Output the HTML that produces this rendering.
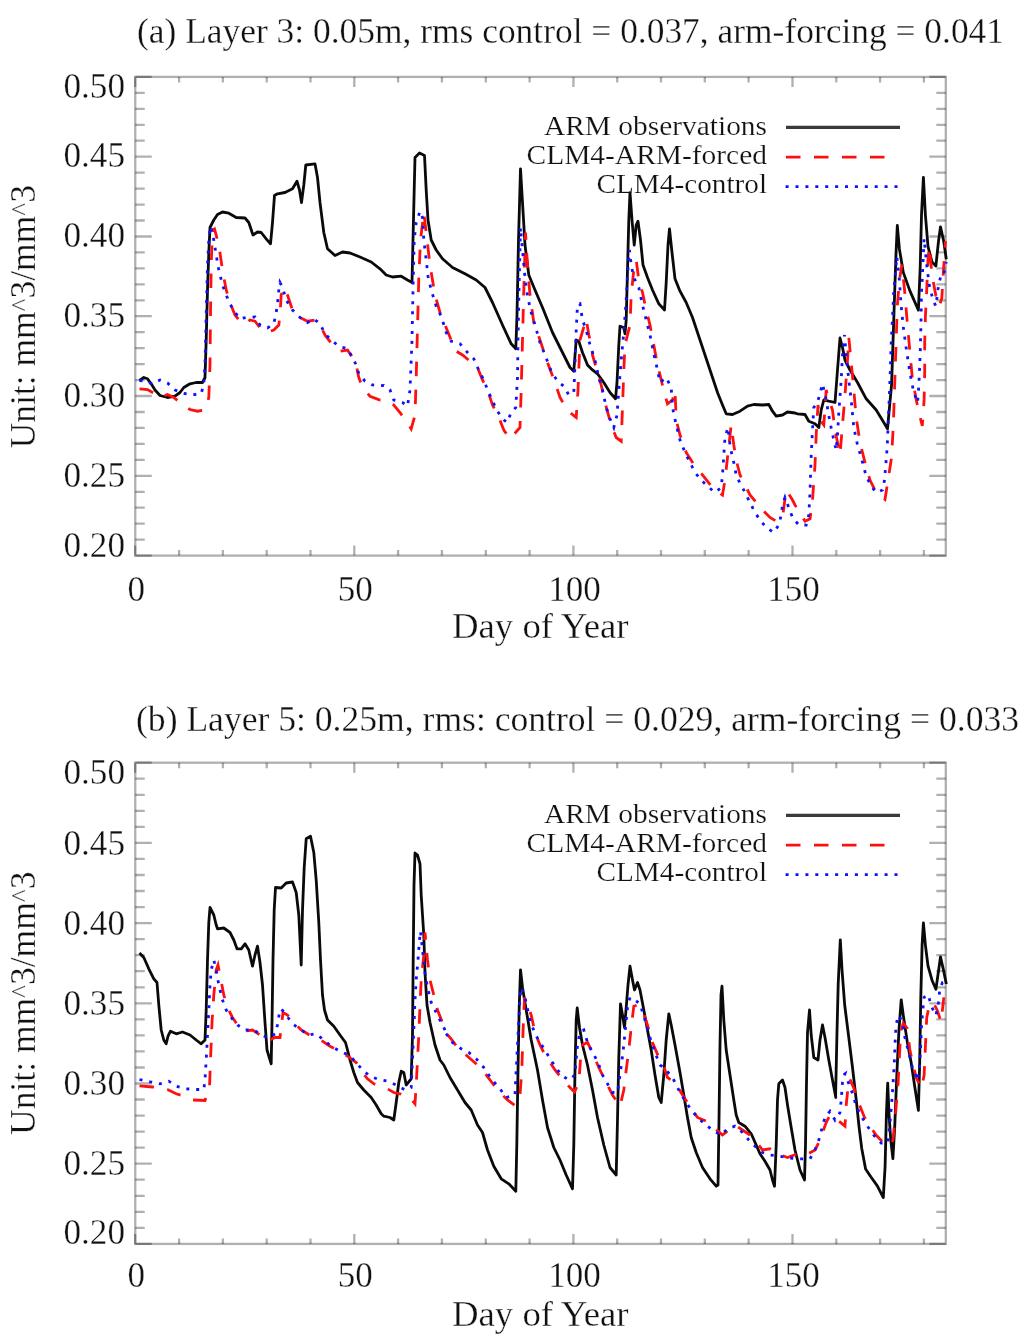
<!DOCTYPE html>
<html><head><meta charset="utf-8"><title>Soil moisture</title>
<style>
html,body{margin:0;padding:0;background:#fff}
svg{display:block;filter:blur(.55px)}
.t{font-family:"Liberation Serif",serif;font-size:35px;fill:#111;stroke:#fff;stroke-width:.3px}
.l{font-family:"Liberation Serif",serif;font-size:28px;fill:#111;stroke:#fff;stroke-width:.2px}
.bk{fill:none;stroke:#0a0a0a;stroke-width:2.8;stroke-linejoin:round}
.rd{fill:none;stroke:#ff1010;stroke-width:2.8;stroke-dasharray:14.5 13.5}
.bu{fill:none;stroke:#1010ff;stroke-width:2.8;stroke-dasharray:3 6.9}
.lg.bk{stroke-width:3.2;stroke:#3a3a3a}
</style></head><body>
<svg width="1024" height="1344" viewBox="0 0 1024 1344">
<rect width="1024" height="1344" fill="#fff"/>
<rect x="135.25" y="76.9" width="810.55" height="478.70000000000005" fill="none" stroke="#000" stroke-opacity=".31" stroke-width="2.3"/>
<path d="M135.2 555.6v-10M135.2 76.9v10M179.1 555.6v-5.5M179.1 76.9v5.5M222.9 555.6v-5.5M222.9 76.9v5.5M266.7 555.6v-5.5M266.7 76.9v5.5M310.5 555.6v-5.5M310.5 76.9v5.5M354.3 555.6v-10M354.3 76.9v10M398.1 555.6v-5.5M398.1 76.9v5.5M441.9 555.6v-5.5M441.9 76.9v5.5M485.8 555.6v-5.5M485.8 76.9v5.5M529.6 555.6v-5.5M529.6 76.9v5.5M573.4 555.6v-10M573.4 76.9v10M617.2 555.6v-5.5M617.2 76.9v5.5M661.0 555.6v-5.5M661.0 76.9v5.5M704.8 555.6v-5.5M704.8 76.9v5.5M748.6 555.6v-5.5M748.6 76.9v5.5M792.5 555.6v-10M792.5 76.9v10M836.3 555.6v-5.5M836.3 76.9v5.5M880.1 555.6v-5.5M880.1 76.9v5.5M923.9 555.6v-5.5M923.9 76.9v5.5M135.25 555.6h16.5M945.8 555.6h-16.5M135.25 539.6h9.5M945.8 539.6h-9.5M135.25 523.7h9.5M945.8 523.7h-9.5M135.25 507.7h9.5M945.8 507.7h-9.5M135.25 491.8h9.5M945.8 491.8h-9.5M135.25 475.8h16.5M945.8 475.8h-16.5M135.25 459.9h9.5M945.8 459.9h-9.5M135.25 443.9h9.5M945.8 443.9h-9.5M135.25 427.9h9.5M945.8 427.9h-9.5M135.25 412.0h9.5M945.8 412.0h-9.5M135.25 396.0h16.5M945.8 396.0h-16.5M135.25 380.1h9.5M945.8 380.1h-9.5M135.25 364.1h9.5M945.8 364.1h-9.5M135.25 348.2h9.5M945.8 348.2h-9.5M135.25 332.2h9.5M945.8 332.2h-9.5M135.25 316.2h16.5M945.8 316.2h-16.5M135.25 300.3h9.5M945.8 300.3h-9.5M135.25 284.3h9.5M945.8 284.3h-9.5M135.25 268.4h9.5M945.8 268.4h-9.5M135.25 252.4h9.5M945.8 252.4h-9.5M135.25 236.5h16.5M945.8 236.5h-16.5M135.25 220.5h9.5M945.8 220.5h-9.5M135.25 204.6h9.5M945.8 204.6h-9.5M135.25 188.6h9.5M945.8 188.6h-9.5M135.25 172.6h9.5M945.8 172.6h-9.5M135.25 156.7h16.5M945.8 156.7h-16.5M135.25 140.7h9.5M945.8 140.7h-9.5M135.25 124.8h9.5M945.8 124.8h-9.5M135.25 108.8h9.5M945.8 108.8h-9.5M135.25 92.9h9.5M945.8 92.9h-9.5M135.25 76.9h16.5M945.8 76.9h-16.5" stroke="#000" stroke-opacity=".31" stroke-width="2.3" fill="none"/>
<path d="M139.5 380.5 L143.8 377.5 L147.5 378.8 L151.2 383.8 L155.0 390.0 L160.0 395.5 L167.5 397.5 L175.0 396.2 L180.0 392.5 L183.8 387.5 L190.0 383.8 L196.2 382.5 L202.5 382.5 L205.0 377.5 L206.2 340.0 L207.5 290.0 L208.8 252.5 L210.0 227.5 L213.8 220.0 L217.5 214.5 L222.5 212.0 L228.8 213.2 L236.2 217.5 L245.0 218.0 L248.8 222.5 L253.0 235.0 L257.5 232.0 L261.2 232.5 L266.2 238.8 L270.5 243.8 L272.5 222.5 L274.5 195.5 L277.5 193.8 L285.0 192.5 L292.5 188.8 L297.0 181.2 L299.5 190.0 L301.5 202.5 L303.8 185.0 L305.8 165.0 L315.0 163.8 L317.5 177.5 L320.0 202.5 L323.8 232.5 L327.5 248.8 L335.0 255.5 L342.5 252.0 L350.0 253.0 L360.0 257.0 L371.2 262.0 L380.0 268.8 L386.2 275.0 L392.5 277.0 L401.2 276.2 L407.5 280.0 L412.0 282.5 L413.0 240.0 L414.2 190.0 L415.0 157.5 L419.5 153.0 L424.5 155.5 L426.2 190.0 L428.0 220.0 L431.2 240.0 L436.2 250.0 L442.5 258.8 L452.5 267.5 L465.0 273.8 L476.2 280.0 L485.0 287.5 L492.5 302.5 L502.5 325.0 L511.2 343.8 L515.8 348.8 L517.0 315.0 L518.5 240.0 L520.5 168.8 L522.5 202.5 L525.0 245.0 L528.8 275.0 L535.0 290.0 L542.5 307.5 L552.5 332.5 L562.5 352.5 L570.0 367.5 L573.8 371.2 L576.2 340.0 L578.8 341.2 L582.5 352.5 L587.5 365.0 L591.2 368.8 L597.5 373.8 L603.8 382.5 L610.0 392.5 L615.5 398.8 L617.0 382.5 L618.8 345.0 L620.0 326.2 L623.8 327.5 L625.0 333.8 L626.2 320.0 L627.5 270.0 L628.8 220.0 L630.0 192.5 L632.0 220.0 L634.2 245.0 L636.2 225.0 L638.0 221.2 L640.5 240.0 L643.0 265.0 L647.5 277.5 L652.5 290.0 L658.8 303.8 L664.5 310.0 L666.2 282.5 L668.0 245.0 L669.5 228.8 L672.0 252.5 L675.0 278.8 L680.0 291.2 L686.2 302.5 L692.5 317.5 L700.0 340.0 L710.0 370.0 L717.5 392.5 L722.5 405.0 L726.2 413.8 L732.5 414.5 L740.0 411.2 L747.5 406.2 L753.8 404.5 L762.5 405.0 L768.8 404.5 L772.5 411.2 L776.2 416.2 L782.5 415.0 L787.5 412.0 L795.0 413.0 L797.5 413.8 L805.0 414.5 L808.8 421.2 L815.0 423.8 L818.8 427.5 L821.2 410.0 L823.8 400.0 L828.8 401.2 L835.0 402.5 L837.5 370.0 L840.0 338.0 L842.5 347.5 L845.0 360.0 L850.0 370.0 L857.5 382.5 L866.2 398.8 L876.2 410.0 L883.8 422.5 L887.5 428.8 L891.6 384.3 L894.2 306.2 L896.0 254.1 L897.3 225.5 L899.4 248.9 L903.3 272.4 L909.8 290.6 L918.4 310.1 L920.2 267.2 L921.5 215.1 L923.4 177.3 L925.4 215.1 L928.0 246.3 L932.0 262.0 L935.9 265.9 L938.5 241.1 L940.5 226.8 L943.7 241.1 L946.3 259.3" class="bk"/>
<path d="M139.5 388.8 L147.5 389.5 L155.0 393.8 L160.0 397.5 L167.5 394.5 L173.8 397.5 L180.0 402.5 L190.0 409.5 L197.5 411.2 L205.0 410.0 L208.8 397.5 L210.0 365.0 L210.5 315.0 L211.2 265.0 L212.5 230.0 L214.5 228.8 L218.8 245.0 L222.5 270.0 L226.2 290.0 L230.0 302.5 L235.0 315.0 L240.0 321.2 L245.0 324.5 L250.0 320.0 L255.0 321.2 L260.0 327.5 L266.2 332.5 L273.8 330.0 L278.8 325.0 L280.0 315.0 L281.2 295.0 L283.8 287.5 L287.5 295.0 L292.5 310.0 L300.0 317.5 L307.5 321.2 L315.0 320.0 L320.0 325.0 L325.0 335.0 L332.5 345.0 L340.0 351.2 L347.5 350.0 L352.5 357.5 L356.2 365.0 L358.8 377.5 L362.5 387.5 L370.0 396.2 L380.0 400.0 L387.5 400.5 L393.8 405.0 L400.0 412.5 L406.2 421.2 L411.2 428.8 L415.0 415.0 L416.2 377.5 L417.5 327.5 L418.8 277.5 L420.5 240.0 L423.8 212.5 L426.2 232.5 L430.0 265.0 L435.0 295.0 L440.0 312.5 L445.0 325.0 L451.2 340.0 L456.2 351.2 L462.5 355.0 L470.0 361.2 L477.5 367.5 L482.5 380.0 L487.5 390.0 L492.5 405.0 L498.8 417.5 L503.8 430.0 L510.0 438.8 L520.0 427.5 L521.2 390.0 L522.5 340.0 L523.8 290.0 L525.5 232.5 L527.5 265.0 L530.0 295.0 L533.8 322.5 L540.0 340.0 L547.5 362.5 L555.0 382.5 L560.0 397.5 L565.0 406.2 L570.0 412.5 L576.2 417.5 L578.0 390.0 L580.0 340.0 L586.2 318.8 L588.8 335.0 L592.5 347.5 L592.5 355.0 L597.5 372.5 L601.2 385.0 L605.0 402.5 L611.2 425.0 L616.2 437.5 L621.2 441.2 L622.5 407.5 L623.8 370.0 L625.0 345.0 L630.0 325.0 L631.2 295.0 L633.8 270.0 L636.2 260.0 L638.8 280.0 L642.5 292.5 L646.2 310.0 L650.0 325.0 L653.8 345.0 L657.5 365.0 L661.2 380.0 L665.0 395.0 L667.5 403.8 L672.5 400.0 L675.0 390.0 L676.2 420.0 L680.0 435.0 L686.2 452.5 L695.0 466.2 L702.5 475.0 L712.5 487.5 L722.5 495.0 L725.0 480.0 L727.5 457.5 L731.2 425.0 L733.8 445.0 L736.2 460.0 L740.0 475.0 L745.0 485.0 L750.0 495.0 L757.5 503.8 L762.5 510.0 L770.0 517.5 L776.2 521.2 L782.5 517.5 L786.2 490.0 L792.5 500.0 L795.0 505.0 L805.0 521.2 L810.0 518.8 L812.5 500.0 L815.0 465.0 L816.2 435.0 L818.0 405.0 L820.0 420.0 L823.8 425.0 L826.2 390.0 L830.0 402.5 L832.5 410.0 L835.0 430.0 L840.0 455.0 L842.5 425.0 L845.0 395.0 L847.5 360.0 L848.8 337.5 L851.2 362.5 L853.8 390.0 L856.2 417.5 L860.0 442.5 L865.0 462.5 L870.0 480.0 L876.2 492.5 L885.0 499.5 L891.6 457.2 L893.4 423.4 L894.7 384.3 L896.0 345.3 L897.3 306.2 L899.4 280.2 L902.0 264.6 L904.6 290.6 L907.2 321.8 L909.8 350.5 L912.4 379.1 L916.3 399.9 L918.4 410.3 L922.3 426.0 L924.1 399.9 L924.7 371.3 L924.7 342.7 L925.4 316.6 L926.7 290.6 L928.0 259.3 L929.3 246.3 L932.0 275.0 L935.9 295.8 L939.2 306.2 L941.8 298.4 L943.7 267.2 L945.5 241.1" class="rd"/>
<path d="M139.5 380.5 L145.0 381.2 L152.5 383.8 L160.0 380.0 L167.5 383.0 L175.0 390.0 L182.5 393.0 L191.2 395.0 L201.2 393.8 L203.8 383.8 L205.0 365.0 L206.2 315.0 L207.5 265.0 L208.8 240.0 L210.5 226.2 L213.8 240.0 L216.2 255.0 L218.8 270.0 L222.5 285.0 L226.2 295.0 L230.0 303.8 L235.0 312.5 L240.0 318.8 L246.2 317.5 L255.0 317.0 L260.0 325.0 L267.5 328.0 L273.8 323.8 L276.2 312.5 L277.5 303.8 L278.8 290.0 L280.0 282.5 L282.5 287.5 L286.2 300.0 L292.5 310.0 L300.0 317.5 L307.5 322.5 L313.8 318.8 L320.0 323.8 L325.0 333.8 L331.2 340.0 L338.8 346.2 L347.5 348.8 L352.5 357.5 L356.2 365.0 L358.8 373.8 L365.0 381.2 L372.5 385.0 L380.0 385.8 L383.8 385.5 L390.0 390.0 L393.8 400.0 L402.5 402.5 L407.5 406.2 L410.0 390.0 L412.0 340.0 L413.0 290.0 L414.2 240.0 L416.2 222.5 L420.0 211.2 L422.5 217.5 L423.8 240.0 L426.2 260.0 L428.0 276.2 L431.2 290.0 L436.2 306.2 L441.2 316.2 L446.2 332.5 L451.2 341.2 L460.0 343.8 L467.5 352.5 L473.8 358.8 L477.5 367.5 L482.5 377.5 L488.8 392.5 L492.5 401.2 L497.5 411.2 L502.5 418.8 L507.0 422.5 L511.2 412.5 L515.8 407.5 L517.5 377.5 L518.0 340.0 L519.0 290.0 L520.5 227.5 L522.5 250.0 L525.0 277.5 L527.5 296.2 L531.2 312.5 L535.0 325.0 L540.0 342.5 L545.0 355.0 L551.2 371.2 L557.5 381.2 L563.8 386.2 L568.8 395.0 L573.8 392.5 L575.0 365.0 L576.2 330.0 L577.5 305.0 L580.0 303.8 L582.5 320.0 L586.2 330.0 L590.0 345.0 L595.0 360.0 L598.8 377.5 L602.5 390.0 L606.2 407.5 L610.0 418.8 L613.8 427.5 L617.0 415.0 L618.8 390.0 L621.2 360.0 L623.8 332.5 L626.2 300.0 L627.5 275.0 L629.5 250.0 L631.2 265.0 L633.8 277.5 L638.8 287.5 L642.5 305.0 L646.2 320.0 L650.0 335.0 L653.8 353.8 L657.5 370.0 L660.0 382.5 L666.2 377.5 L671.2 387.5 L672.5 407.5 L676.2 425.0 L680.0 440.0 L685.0 452.5 L690.0 462.5 L695.0 472.5 L701.2 480.0 L707.5 486.2 L715.0 492.5 L721.2 487.5 L722.5 475.0 L723.8 455.0 L725.0 437.5 L728.0 427.5 L730.0 445.0 L732.5 457.5 L735.0 467.5 L736.2 476.2 L741.2 485.0 L745.0 492.5 L750.0 502.5 L755.0 512.5 L760.0 520.0 L766.2 527.5 L773.8 532.5 L778.8 525.0 L781.2 515.0 L782.5 505.0 L785.0 497.5 L788.8 507.5 L792.5 517.5 L798.8 525.0 L806.2 525.0 L808.8 515.0 L810.0 492.5 L811.2 455.0 L812.5 430.0 L813.8 407.5 L817.5 402.5 L822.5 383.8 L826.2 400.0 L830.0 422.5 L833.8 440.0 L836.2 450.0 L837.5 435.0 L838.8 412.5 L841.2 380.0 L842.5 355.0 L844.5 335.0 L846.2 355.0 L848.8 380.0 L851.2 400.0 L853.8 427.5 L857.5 445.0 L861.2 457.5 L866.2 476.2 L871.2 486.2 L876.2 492.5 L882.5 490.0 L883.8 485.9 L885.6 467.6 L887.2 446.8 L888.2 423.4 L889.3 397.3 L890.3 371.3 L891.1 345.3 L892.4 319.2 L893.7 293.2 L895.5 272.4 L896.8 256.7 L899.4 280.2 L901.2 306.2 L903.3 327.0 L905.4 342.7 L908.5 363.5 L911.1 379.1 L913.7 392.1 L917.6 402.5 L918.9 384.3 L920.2 353.1 L921.0 321.8 L921.5 293.2 L922.8 267.2 L924.1 238.5 L926.7 264.6 L929.3 285.4 L933.3 301.0 L935.9 306.2 L938.5 285.4 L941.1 275.0 L943.7 275.0 L946.3 262.0" class="bu"/>
<text x="137" y="43" class="t" textLength="867" lengthAdjust="spacingAndGlyphs">(a) Layer 3: 0.05m, rms control = 0.037, arm-forcing = 0.041</text>
<text x="63.5" y="97.5" class="t" textLength="61.5" lengthAdjust="spacingAndGlyphs">0.50</text>
<text x="63.5" y="167" class="t" textLength="61.5" lengthAdjust="spacingAndGlyphs">0.45</text>
<text x="63.5" y="247.3" class="t" textLength="61.5" lengthAdjust="spacingAndGlyphs">0.40</text>
<text x="63.5" y="327" class="t" textLength="61.5" lengthAdjust="spacingAndGlyphs">0.35</text>
<text x="63.5" y="407.3" class="t" textLength="61.5" lengthAdjust="spacingAndGlyphs">0.30</text>
<text x="63.5" y="487.3" class="t" textLength="61.5" lengthAdjust="spacingAndGlyphs">0.25</text>
<text x="63.5" y="556.5" class="t" textLength="61.5" lengthAdjust="spacingAndGlyphs">0.20</text>
<text x="136.2" y="601" class="t" text-anchor="middle">0</text>
<text x="355.3" y="601" class="t" text-anchor="middle">50</text>
<text x="574.4" y="601" class="t" text-anchor="middle">100</text>
<text x="793.5" y="601" class="t" text-anchor="middle">150</text>
<text x="452" y="638" class="t" textLength="176.5" lengthAdjust="spacingAndGlyphs">Day of Year</text>
<text transform="translate(35 448.5) rotate(-90)" class="t" textLength="263.5" lengthAdjust="spacingAndGlyphs">Unit: mm<tspan font-size="27" dy="-5.5">^</tspan><tspan dy="5.5">3/mm</tspan><tspan font-size="27" dy="-5.5">^</tspan><tspan dy="5.5">3</tspan></text>
<text x="544" y="134.5" class="l" textLength="223" lengthAdjust="spacingAndGlyphs">ARM observations</text>
<path d="M786 127.3H900" class="bk lg"/>
<text x="526.5" y="163.9" class="l" textLength="240.5" lengthAdjust="spacingAndGlyphs">CLM4-ARM-forced</text>
<path d="M786 157.1H886" class="rd lg"/>
<text x="596.5" y="193.3" class="l" textLength="170.5" lengthAdjust="spacingAndGlyphs">CLM4-control</text>
<path d="M785.6 186.7H900" class="bu lg"/>
<rect x="135.25" y="762.7" width="810.55" height="481.20000000000005" fill="none" stroke="#000" stroke-opacity=".31" stroke-width="2.3"/>
<path d="M135.2 1243.9v-10M135.2 762.7v10M179.1 1243.9v-5.5M179.1 762.7v5.5M222.9 1243.9v-5.5M222.9 762.7v5.5M266.7 1243.9v-5.5M266.7 762.7v5.5M310.5 1243.9v-5.5M310.5 762.7v5.5M354.3 1243.9v-10M354.3 762.7v10M398.1 1243.9v-5.5M398.1 762.7v5.5M441.9 1243.9v-5.5M441.9 762.7v5.5M485.8 1243.9v-5.5M485.8 762.7v5.5M529.6 1243.9v-5.5M529.6 762.7v5.5M573.4 1243.9v-10M573.4 762.7v10M617.2 1243.9v-5.5M617.2 762.7v5.5M661.0 1243.9v-5.5M661.0 762.7v5.5M704.8 1243.9v-5.5M704.8 762.7v5.5M748.6 1243.9v-5.5M748.6 762.7v5.5M792.5 1243.9v-10M792.5 762.7v10M836.3 1243.9v-5.5M836.3 762.7v5.5M880.1 1243.9v-5.5M880.1 762.7v5.5M923.9 1243.9v-5.5M923.9 762.7v5.5M135.25 1243.9h16.5M945.8 1243.9h-16.5M135.25 1227.9h9.5M945.8 1227.9h-9.5M135.25 1211.8h9.5M945.8 1211.8h-9.5M135.25 1195.8h9.5M945.8 1195.8h-9.5M135.25 1179.7h9.5M945.8 1179.7h-9.5M135.25 1163.7h16.5M945.8 1163.7h-16.5M135.25 1147.7h9.5M945.8 1147.7h-9.5M135.25 1131.6h9.5M945.8 1131.6h-9.5M135.25 1115.6h9.5M945.8 1115.6h-9.5M135.25 1099.5h9.5M945.8 1099.5h-9.5M135.25 1083.5h16.5M945.8 1083.5h-16.5M135.25 1067.5h9.5M945.8 1067.5h-9.5M135.25 1051.4h9.5M945.8 1051.4h-9.5M135.25 1035.4h9.5M945.8 1035.4h-9.5M135.25 1019.3h9.5M945.8 1019.3h-9.5M135.25 1003.3h16.5M945.8 1003.3h-16.5M135.25 987.3h9.5M945.8 987.3h-9.5M135.25 971.2h9.5M945.8 971.2h-9.5M135.25 955.2h9.5M945.8 955.2h-9.5M135.25 939.1h9.5M945.8 939.1h-9.5M135.25 923.1h16.5M945.8 923.1h-16.5M135.25 907.1h9.5M945.8 907.1h-9.5M135.25 891.0h9.5M945.8 891.0h-9.5M135.25 875.0h9.5M945.8 875.0h-9.5M135.25 858.9h9.5M945.8 858.9h-9.5M135.25 842.9h16.5M945.8 842.9h-16.5M135.25 826.9h9.5M945.8 826.9h-9.5M135.25 810.8h9.5M945.8 810.8h-9.5M135.25 794.8h9.5M945.8 794.8h-9.5M135.25 778.7h9.5M945.8 778.7h-9.5M135.25 762.7h16.5M945.8 762.7h-16.5" stroke="#000" stroke-opacity=".31" stroke-width="2.3" fill="none"/>
<path d="M139.5 953.0 L143.8 957.5 L148.8 968.8 L153.8 978.8 L157.0 982.5 L158.8 1005.0 L161.2 1030.0 L163.8 1040.0 L166.2 1043.8 L168.0 1036.2 L170.5 1031.2 L176.2 1033.8 L182.5 1032.0 L190.0 1035.0 L196.2 1040.0 L201.2 1043.8 L205.0 1040.0 L206.2 1010.0 L207.5 960.0 L208.8 922.5 L210.0 907.5 L213.8 915.0 L216.2 925.0 L217.5 928.8 L223.8 928.0 L230.0 932.5 L233.8 940.0 L237.0 948.8 L241.2 948.8 L245.0 943.8 L248.8 950.0 L252.5 966.2 L255.0 955.0 L257.5 946.2 L260.0 962.5 L262.5 985.0 L265.0 1022.5 L267.0 1050.0 L271.2 1063.8 L272.0 1022.5 L273.0 960.0 L274.2 910.0 L275.5 887.5 L281.2 888.0 L286.2 883.0 L292.5 882.0 L296.2 892.5 L298.8 915.0 L300.0 940.0 L301.2 965.0 L302.5 910.0 L304.2 867.5 L306.2 838.8 L310.5 836.2 L313.8 852.5 L316.2 880.0 L318.8 922.5 L320.5 960.0 L322.5 995.0 L324.5 1010.0 L327.5 1020.0 L333.8 1026.2 L340.0 1035.0 L345.5 1042.5 L347.5 1050.0 L350.0 1060.0 L353.8 1072.5 L357.5 1082.5 L363.8 1090.0 L371.2 1097.5 L376.2 1105.0 L381.2 1113.8 L383.8 1116.2 L390.0 1117.5 L393.8 1120.0 L396.2 1102.5 L398.8 1082.5 L401.2 1071.2 L403.8 1072.5 L406.2 1085.0 L411.2 1078.8 L412.5 1035.0 L413.2 960.0 L414.0 885.0 L415.0 853.0 L417.5 855.0 L420.0 863.8 L421.2 895.0 L423.8 935.0 L425.0 972.5 L427.0 1005.0 L430.0 1022.5 L435.0 1045.0 L440.0 1060.0 L443.8 1065.0 L450.0 1077.5 L457.5 1090.0 L465.0 1102.5 L471.2 1110.0 L477.5 1125.0 L482.5 1132.5 L487.5 1150.0 L493.8 1166.2 L501.2 1178.8 L508.8 1183.8 L515.8 1191.2 L516.8 1145.0 L518.0 1070.0 L519.2 1007.5 L520.5 970.0 L522.5 987.5 L526.2 1010.0 L531.2 1040.0 L537.5 1070.0 L542.5 1100.0 L547.5 1127.5 L553.8 1147.5 L560.0 1160.0 L566.2 1175.0 L572.5 1188.8 L573.8 1145.0 L575.0 1070.0 L576.2 1020.0 L577.2 1008.0 L579.5 1027.5 L582.5 1045.0 L587.5 1065.0 L592.5 1090.0 L597.5 1117.5 L603.8 1145.0 L610.0 1167.5 L616.2 1175.0 L617.5 1120.0 L618.8 1057.5 L620.5 1003.8 L622.5 1015.0 L624.5 1027.5 L626.2 1007.5 L628.0 985.0 L630.0 966.2 L632.5 980.0 L634.5 990.0 L637.5 982.5 L640.0 990.0 L643.8 1010.0 L647.5 1030.0 L651.2 1050.0 L655.0 1075.0 L658.8 1097.5 L661.2 1102.5 L663.8 1075.0 L666.2 1040.0 L668.8 1013.8 L671.2 1025.0 L675.0 1045.0 L680.0 1072.5 L683.8 1095.0 L687.5 1117.5 L691.2 1137.5 L696.2 1152.5 L702.5 1167.5 L710.0 1178.8 L716.2 1186.2 L718.0 1185.0 L719.0 1120.0 L720.0 1045.0 L721.0 995.0 L722.0 986.2 L723.8 1020.0 L726.2 1050.0 L730.0 1075.0 L733.8 1100.0 L736.2 1115.0 L738.8 1122.5 L745.0 1126.2 L751.2 1133.8 L756.2 1145.0 L760.0 1153.8 L765.0 1161.2 L770.0 1170.0 L772.5 1180.0 L774.5 1186.2 L776.2 1145.0 L777.5 1100.0 L778.8 1083.8 L782.5 1080.0 L785.0 1087.5 L787.5 1105.0 L791.2 1127.5 L795.0 1150.0 L800.0 1170.0 L804.5 1180.0 L805.5 1145.0 L806.5 1082.5 L807.5 1032.5 L809.5 1010.0 L811.2 1035.0 L813.8 1057.5 L818.0 1060.0 L820.0 1040.0 L822.5 1025.0 L825.0 1037.5 L828.8 1060.0 L832.5 1080.0 L835.8 1097.5 L835.6 1096.1 L836.9 1036.2 L838.2 984.1 L840.3 939.9 L842.1 971.1 L844.7 1005.0 L848.6 1036.2 L852.5 1067.5 L856.4 1101.3 L859.1 1127.3 L861.7 1148.2 L865.6 1169.0 L870.8 1176.8 L877.3 1185.9 L883.3 1197.6 L885.1 1166.4 L886.4 1114.3 L887.7 1083.1 L889.0 1114.3 L890.8 1140.3 L892.9 1158.6 L894.7 1127.3 L896.8 1075.3 L898.9 1031.0 L901.2 999.8 L903.3 1015.4 L907.2 1041.4 L911.1 1062.2 L915.0 1088.3 L918.4 1110.4 L919.7 1062.2 L920.8 997.2 L922.1 945.1 L923.4 923.0 L925.4 945.1 L928.0 965.9 L932.0 980.2 L935.9 989.3 L938.5 971.1 L940.5 956.8 L943.7 971.1 L946.3 984.1" class="bk"/>
<path d="M139.5 1085.8 L152.5 1087.0 L167.5 1089.5 L176.2 1093.8 L183.8 1096.2 L192.5 1100.0 L205.0 1100.5 L209.5 1087.5 L210.5 1060.0 L212.0 1022.5 L213.8 995.0 L216.2 970.0 L218.0 965.0 L220.5 977.5 L223.8 995.0 L227.5 1007.5 L232.5 1017.5 L237.5 1025.0 L243.8 1031.2 L252.5 1030.0 L260.0 1035.0 L267.5 1041.2 L275.0 1037.5 L280.0 1037.5 L281.2 1027.5 L283.0 1012.5 L287.5 1015.0 L293.8 1022.5 L301.2 1030.0 L307.5 1033.8 L313.8 1037.5 L322.5 1041.2 L330.0 1046.2 L340.0 1051.2 L347.5 1056.2 L356.2 1062.5 L362.5 1072.5 L367.5 1078.8 L373.8 1083.8 L385.0 1087.5 L393.8 1092.5 L400.0 1093.8 L410.0 1097.5 L415.0 1103.8 L416.2 1085.0 L417.5 1060.0 L418.8 1035.0 L420.0 1005.0 L421.2 980.0 L423.8 955.0 L425.0 932.5 L427.5 960.0 L430.0 980.0 L433.8 995.0 L437.5 1010.0 L442.5 1022.5 L447.5 1035.0 L450.0 1037.5 L457.5 1047.5 L467.5 1056.2 L477.5 1065.0 L486.2 1075.0 L493.8 1085.0 L500.0 1092.5 L507.5 1100.0 L515.0 1105.5 L520.0 1095.0 L521.8 1070.0 L523.0 1032.5 L524.5 997.5 L527.5 1005.0 L531.2 1015.0 L535.0 1032.5 L540.0 1045.0 L545.0 1055.0 L550.0 1062.5 L555.0 1070.0 L561.2 1077.5 L567.5 1085.0 L574.5 1092.0 L578.8 1082.5 L580.5 1060.0 L582.5 1045.0 L587.5 1042.5 L592.5 1052.5 L598.8 1067.5 L605.0 1080.0 L612.5 1095.0 L620.0 1106.2 L623.8 1090.0 L626.2 1070.0 L628.8 1050.0 L631.2 1027.5 L633.8 1006.2 L637.5 1005.0 L642.5 1010.0 L647.5 1025.0 L652.5 1042.5 L658.8 1057.5 L662.5 1062.5 L667.5 1077.5 L675.0 1082.5 L682.5 1095.0 L690.0 1106.2 L697.5 1117.5 L706.2 1121.2 L713.8 1127.5 L722.5 1135.0 L728.8 1130.0 L735.0 1125.0 L742.5 1130.0 L750.0 1135.0 L755.0 1140.0 L762.5 1150.0 L770.0 1148.8 L777.5 1153.8 L787.5 1157.5 L797.5 1153.8 L806.2 1155.0 L815.0 1150.0 L818.8 1142.5 L822.5 1132.5 L826.2 1122.5 L830.0 1115.0 L837.5 1120.0 L845.0 1126.2 L846.2 1105.0 L847.5 1092.5 L849.5 1078.8 L849.9 1079.2 L853.8 1088.3 L859.1 1103.9 L864.3 1116.9 L870.8 1127.3 L876.0 1135.1 L882.5 1141.7 L890.3 1145.6 L892.9 1140.3 L895.5 1114.3 L898.1 1083.1 L899.4 1057.0 L900.7 1031.0 L903.3 1023.2 L907.2 1028.4 L909.8 1049.2 L912.4 1062.2 L916.3 1077.9 L921.5 1088.3 L924.1 1075.3 L925.4 1046.6 L926.7 1018.0 L929.3 1005.0 L933.3 1002.4 L937.2 1010.2 L941.1 1021.9 L942.4 1010.2 L944.4 992.0 L946.3 984.1" class="rd"/>
<path d="M139.5 1079.5 L151.2 1082.0 L160.0 1083.8 L168.8 1081.2 L176.2 1086.2 L186.2 1088.8 L196.2 1089.5 L203.8 1089.5 L205.0 1080.0 L206.2 1060.0 L207.5 1035.0 L208.8 1010.0 L210.0 985.0 L211.2 970.0 L213.8 960.0 L216.2 970.0 L218.8 985.0 L222.5 1000.0 L226.2 1010.0 L231.2 1017.5 L237.5 1025.0 L245.0 1030.0 L253.8 1030.0 L261.2 1035.0 L268.8 1038.0 L275.0 1033.8 L277.5 1025.0 L279.5 1012.5 L281.2 1008.8 L286.2 1015.0 L292.5 1023.8 L301.2 1030.0 L308.8 1035.0 L316.2 1033.8 L323.8 1040.0 L331.2 1046.2 L340.0 1051.2 L348.8 1055.0 L356.2 1062.5 L362.5 1070.0 L370.0 1076.2 L378.8 1079.5 L387.5 1081.2 L396.2 1085.0 L405.0 1090.0 L411.2 1087.5 L412.5 1060.0 L413.8 1030.0 L415.0 1000.0 L416.2 980.0 L418.0 960.0 L419.5 940.0 L420.5 931.2 L422.5 950.0 L425.0 972.5 L427.5 987.5 L431.2 1002.5 L436.2 1012.5 L441.2 1022.5 L447.5 1035.0 L446.2 1033.8 L452.5 1042.5 L461.2 1048.8 L468.8 1052.5 L476.2 1058.8 L483.8 1067.5 L491.2 1078.8 L500.0 1088.8 L506.2 1097.5 L515.0 1095.0 L516.2 1070.0 L517.5 1045.0 L518.8 1020.0 L520.0 997.5 L521.2 987.5 L525.0 997.5 L530.0 1020.0 L535.0 1033.8 L540.0 1042.5 L545.0 1050.0 L550.0 1058.8 L555.0 1066.2 L561.2 1075.0 L568.8 1080.0 L575.0 1075.0 L576.2 1060.0 L577.5 1045.0 L580.0 1032.5 L583.8 1030.0 L587.5 1042.5 L592.5 1052.5 L597.5 1061.2 L602.5 1075.0 L607.5 1083.8 L612.5 1092.5 L617.5 1092.5 L620.0 1075.0 L622.0 1060.0 L623.8 1045.0 L625.5 1027.5 L627.5 1007.5 L630.0 997.5 L635.0 1000.0 L640.0 1003.8 L645.0 1020.0 L650.0 1037.5 L655.0 1052.5 L660.0 1065.0 L663.8 1067.5 L672.5 1077.5 L680.0 1092.5 L686.2 1102.5 L691.2 1110.0 L698.8 1118.8 L706.2 1125.0 L713.8 1131.2 L721.2 1135.0 L727.5 1128.8 L735.0 1126.2 L742.5 1132.5 L748.8 1140.0 L755.0 1146.2 L762.5 1152.5 L770.0 1155.0 L780.0 1156.2 L790.0 1158.0 L800.0 1158.8 L810.0 1158.8 L815.0 1150.0 L818.8 1140.0 L821.2 1131.2 L825.0 1117.5 L830.0 1111.2 L835.0 1120.0 L840.0 1112.5 L841.2 1100.0 L842.5 1082.5 L845.0 1073.8 L844.7 1074.0 L848.6 1083.1 L852.5 1093.5 L856.4 1106.5 L861.7 1116.9 L868.2 1127.3 L874.7 1136.4 L881.2 1143.0 L887.7 1143.0 L889.8 1124.7 L891.6 1103.9 L892.9 1085.7 L894.2 1064.8 L895.0 1044.0 L896.0 1025.8 L898.1 1015.4 L902.0 1020.6 L904.6 1036.2 L908.5 1051.8 L912.4 1067.5 L917.6 1080.5 L919.5 1067.5 L920.8 1044.0 L921.5 1025.8 L922.8 1010.2 L924.1 997.2 L928.0 994.6 L932.0 1007.6 L935.9 1015.4 L938.5 1002.4 L939.8 989.3 L942.4 982.8 L946.3 984.1" class="bu"/>
<text x="136" y="731" class="t" textLength="883" lengthAdjust="spacingAndGlyphs">(b) Layer 5: 0.25m, rms: control = 0.029, arm-forcing = 0.033</text>
<text x="63.5" y="783.5" class="t" textLength="61.5" lengthAdjust="spacingAndGlyphs">0.50</text>
<text x="63.5" y="855" class="t" textLength="61.5" lengthAdjust="spacingAndGlyphs">0.45</text>
<text x="63.5" y="935" class="t" textLength="61.5" lengthAdjust="spacingAndGlyphs">0.40</text>
<text x="63.5" y="1015" class="t" textLength="61.5" lengthAdjust="spacingAndGlyphs">0.35</text>
<text x="63.5" y="1095" class="t" textLength="61.5" lengthAdjust="spacingAndGlyphs">0.30</text>
<text x="63.5" y="1175" class="t" textLength="61.5" lengthAdjust="spacingAndGlyphs">0.25</text>
<text x="63.5" y="1244" class="t" textLength="61.5" lengthAdjust="spacingAndGlyphs">0.20</text>
<text x="136.2" y="1286.5" class="t" text-anchor="middle">0</text>
<text x="355.3" y="1286.5" class="t" text-anchor="middle">50</text>
<text x="574.4" y="1286.5" class="t" text-anchor="middle">100</text>
<text x="793.5" y="1286.5" class="t" text-anchor="middle">150</text>
<text x="452" y="1325.5" class="t" textLength="176.5" lengthAdjust="spacingAndGlyphs">Day of Year</text>
<text transform="translate(35 1135) rotate(-90)" class="t" textLength="263.5" lengthAdjust="spacingAndGlyphs">Unit: mm<tspan font-size="27" dy="-5.5">^</tspan><tspan dy="5.5">3/mm</tspan><tspan font-size="27" dy="-5.5">^</tspan><tspan dy="5.5">3</tspan></text>
<text x="544" y="822.5" class="l" textLength="223" lengthAdjust="spacingAndGlyphs">ARM observations</text>
<path d="M786 815.3H900" class="bk lg"/>
<text x="526.5" y="851.9" class="l" textLength="240.5" lengthAdjust="spacingAndGlyphs">CLM4-ARM-forced</text>
<path d="M786 845.1H886" class="rd lg"/>
<text x="596.5" y="881.3" class="l" textLength="170.5" lengthAdjust="spacingAndGlyphs">CLM4-control</text>
<path d="M785.6 874.7H900" class="bu lg"/>
</svg>
</body></html>
